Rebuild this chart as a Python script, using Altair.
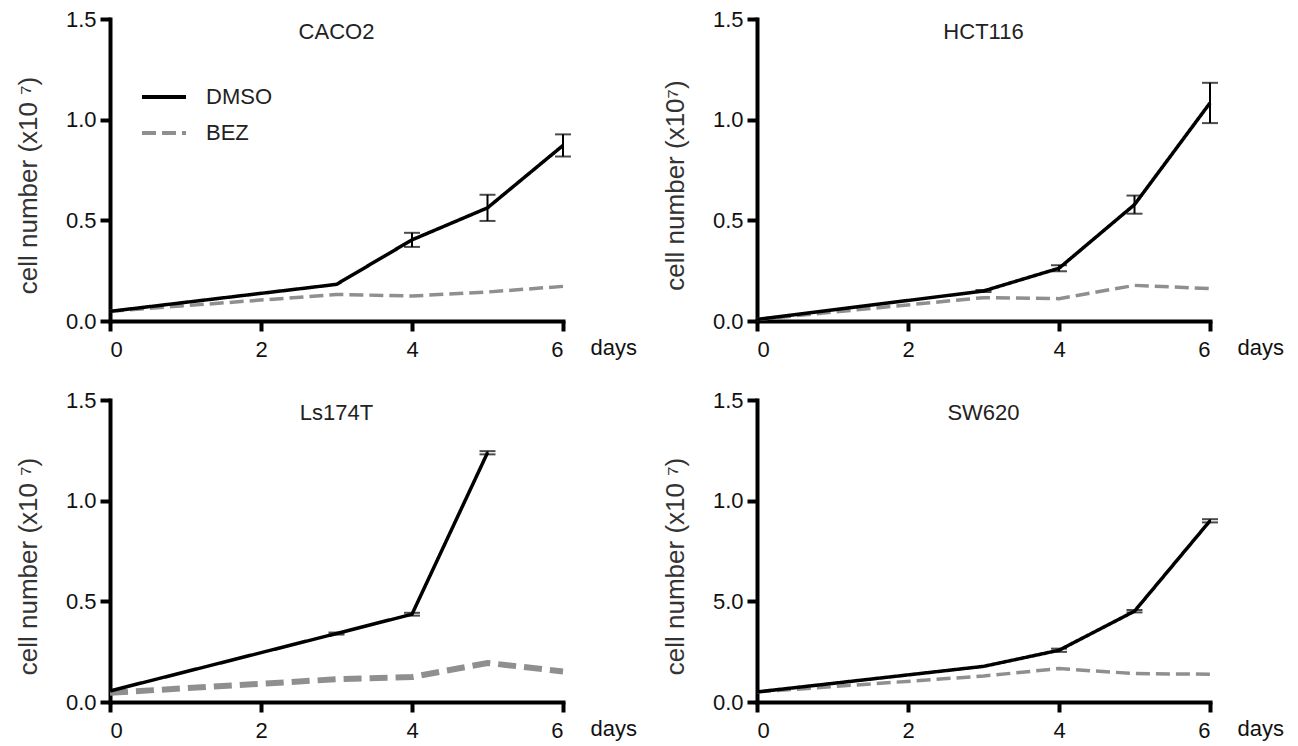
import altair as alt
import pandas as pd

days = [0, 3, 4, 5, 6]
series_names = ["DMSO", "BEZ"]
panel_names = ["CACO2", "HCT116", "Ls174T", "SW620"]
y_titles = ["cell number (x10 \u2077)", "cell number (x10\u2077)",
            "cell number (x10 \u2077)", "cell number (x10 \u2077)"]
x_ticks = [0, 2, 4, 6]
y_ticks = [0.0, 0.5, 1.0, 1.5]

caco2_dmso = [0.048, 0.182, 0.403, 0.562, 0.872]
caco2_dmso_err = [0.0, 0.0, 0.035, 0.065, 0.055]
caco2_bez = [0.048, 0.132, 0.124, 0.144, 0.172]

hct116_dmso = [0.008, 0.149, 0.262, 0.578, 1.083]
hct116_dmso_err = [0.0, 0.005, 0.015, 0.045, 0.100]
hct116_bez = [0.008, 0.116, 0.111, 0.177, 0.161]

ls174t_dmso = [0.055, 0.340, 0.436, 1.238, None]
ls174t_dmso_err = [0.0, 0.005, 0.007, 0.008, None]
ls174t_bez = [0.046, 0.113, 0.124, 0.194, 0.152]

sw620_dmso = [0.050, 0.177, 0.257, 0.451, 0.900]
sw620_dmso_err = [0.0, 0.0, 0.008, 0.006, 0.008]
sw620_bez = [0.050, 0.129, 0.166, 0.141, 0.138]

FONT = "Liberation Sans"
GREY = "#8f8f8f"


def make_df(dmso, dmso_err, bez):
    rows = []
    for d, v, e in zip(days, dmso, dmso_err):
        if v is None:
            continue
        rows.append(dict(day=d, value=v, lo=v - e, hi=v + e, err=e, series="DMSO"))
    for d, v in zip(days, bez):
        rows.append(dict(day=d, value=v, lo=v, hi=v, err=0.0, series="BEZ"))
    return pd.DataFrame(rows)


def panel(name, ytitle, df, show_legend=False, label_expr=None, bez_width=3.5, bez_dash=(14, 6)):
    xs = alt.Scale(domain=[0, 6], nice=False, zero=False)
    ys = alt.Scale(domain=[0, 1.5], nice=False)
    xaxis = alt.Axis(values=x_ticks, format="d", title="days", titleX=480, titleY=33,
                     titleAlign="left", titleBaseline="alphabetic", titleAngle=0,
                     titleFontSize=22, titleColor="#111111", labelPadding=8)
    yargs = dict(values=y_ticks, format=".1f", title=ytitle, titlePadding=24, labelPadding=4,
                 titleY=166)
    if label_expr:
        yargs["labelExpr"] = label_expr
    yaxis = alt.Axis(**yargs)
    x = alt.X("day:Q", scale=xs, axis=xaxis)
    y = alt.Y("value:Q", scale=ys, axis=yaxis)

    if show_legend:
        leg = alt.Legend(orient="none", legendX=30, legendY=54, title=None,
                         symbolType="stroke", symbolSize=1936, symbolStrokeWidth=4,
                         labelFontSize=22, labelFont=FONT, labelColor="#222222",
                         labelOffset=18, rowPadding=1)
    else:
        leg = None
    color = alt.Color("series:N", scale=alt.Scale(domain=series_names, range=["#000000", GREY]),
                      legend=leg)
    dash = alt.StrokeDash("series:N",
                          scale=alt.Scale(domain=series_names, range=[[1, 0], list(bez_dash)]),
                          legend=leg)

    base = alt.Chart(df)
    line_bez = base.transform_filter("datum.series == 'BEZ'").mark_line(
        strokeWidth=bez_width).encode(x=x, y=y, color=color, strokeDash=dash, order="day:Q")
    line_dmso = base.transform_filter("datum.series == 'DMSO'").mark_line(
        strokeWidth=3.5).encode(x=x, y=y, color=color, strokeDash=dash, order="day:Q")
    errs = base.transform_filter("datum.err > 0")
    rule = errs.mark_rule(color="black", strokeWidth=2).encode(
        x="day:Q", y="lo:Q", y2="hi:Q")
    cap_lo = errs.mark_tick(color="black", orient="horizontal", size=16, thickness=2).encode(
        x="day:Q", y="lo:Q")
    cap_hi = errs.mark_tick(color="black", orient="horizontal", size=16, thickness=2).encode(
        x="day:Q", y="hi:Q")
    title = alt.Chart(pd.DataFrame({"name": [name]})).mark_text(
        fontSize=22, font=FONT, color="#222222", baseline="middle", align="center", dy=13
    ).encode(x=alt.datum(3), y=alt.datum(1.5), text="name:N")

    return alt.layer(line_bez, line_dmso, rule, cap_lo, cap_hi, title).properties(
        width=453, height=302)


p1 = panel(panel_names[0], y_titles[0], make_df(caco2_dmso, caco2_dmso_err, caco2_bez), show_legend=True)
p2 = panel(panel_names[1], y_titles[1], make_df(hct116_dmso, hct116_dmso_err, hct116_bez))
p3 = panel(panel_names[2], y_titles[2], make_df(ls174t_dmso, ls174t_dmso_err, ls174t_bez),
           bez_width=6, bez_dash=(18, 8))
p4 = panel(panel_names[3], y_titles[3], make_df(sw620_dmso, sw620_dmso_err, sw620_bez),
           label_expr="datum.value == 0.5 ? '5.0' : format(datum.value, '.1f')")

row1 = alt.hconcat(p1, p2, spacing=25).resolve_scale(color="independent", strokeDash="independent")
row2 = alt.hconcat(p3, p4, spacing=25).resolve_scale(color="independent", strokeDash="independent")

chart = alt.vconcat(row1, row2, spacing=29).resolve_scale(
    color="independent", strokeDash="independent"
).properties(
    padding={"left": 7, "top": 0, "right": 5, "bottom": 0}
).configure_view(stroke=None).configure_axis(
    grid=False, domainColor="black", domainWidth=4, domainCap="square",
    tickColor="black", tickWidth=4, tickSize=10,
    labelFont=FONT, labelFontSize=22, labelColor="#111111",
    titleFont=FONT, titleFontSize=26, titleFontWeight="normal", titleColor="#333333",
)

chart.save("out.html", embed_options={"renderer": "svg", "actions": False})
